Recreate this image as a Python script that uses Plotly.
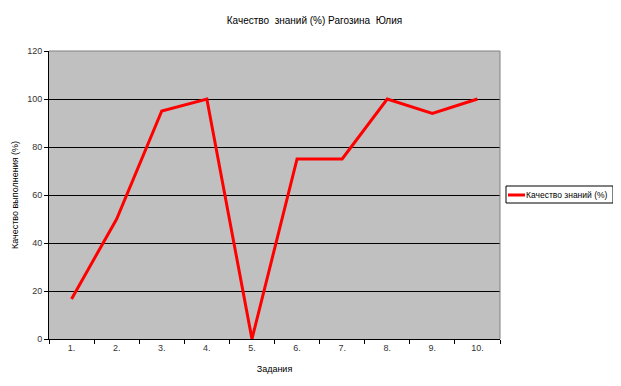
import plotly.graph_objects as go

tasks = ["1.", "2.", "3.", "4.", "5.", "6.", "7.", "8.", "9.", "10."]
quality = [16.7, 50, 95, 100, 0, 75, 75, 100, 94, 100]
series_name = "Качество знаний (%)"
title_text = "Качество  знаний (%) Рагозина  Юлия"

FONT = "Liberation Sans, Arial, sans-serif"

# page body has an 8px margin; compensate so the plot lands where the reference has it
W, H = 613, 378

fig = go.Figure()
fig.add_trace(go.Scatter(
    x=tasks, y=quality, mode="lines", name=series_name,
    line=dict(color="#FF0000", width=3), showlegend=False,
))

fig.update_layout(
    width=W, height=H,
    margin=dict(l=41, r=121, t=43, b=47, autoexpand=False),
    paper_bgcolor="white",
    plot_bgcolor="#C0C0C0",
    font=dict(family=FONT, size=9, color="black"),
    title=dict(text=title_text, x=0.5, xanchor="center", y=1 - 12 / H, yanchor="middle",
               font=dict(family=FONT, size=10, color="black")),
    showlegend=False,
    xaxis=dict(
        type="category", tickson="boundaries", ticks="outside", ticklen=4,
        tickcolor="black", showline=True, linecolor="black", linewidth=1,
        mirror=False, showgrid=False, zeroline=False, automargin=False,
        title=dict(text="Задания", standoff=13, font=dict(family=FONT, size=9)),
        tickfont=dict(family=FONT, size=9, color="#333"),
        range=[-0.5, 9.5],
    ),
    yaxis=dict(
        range=[0, 120], dtick=20, ticks="outside", ticklen=4, tickcolor="black",
        showline=True, linecolor="black", linewidth=1, automargin=False,
        showgrid=True, gridcolor="black", gridwidth=1, zeroline=False,
        title=dict(text="Качество выполнения (%)", standoff=7, font=dict(family=FONT, size=9)),
        tickfont=dict(family=FONT, size=9, color="#333"),
    ),
)

# gray frame on top/right of plot area
fig.add_shape(type="line", xref="paper", yref="paper", x0=0, x1=1, y0=1, y1=1,
              line=dict(color="#808080", width=1))
fig.add_shape(type="line", xref="paper", yref="paper", x0=1, x1=1, y0=0, y1=1,
              line=dict(color="#808080", width=1))

# legend box (drawn manually to match the compact reference legend)
pw, ph = 451.0, 288.0
def px(xp):
    return (xp - 49) / pw
def py(yp):
    return (339 - yp) / ph

fig.add_shape(type="rect", xref="paper", yref="paper",
              x0=px(506), x1=px(613), y0=py(203), y1=py(186),
              line=dict(color="black", width=1), fillcolor="white")
fig.add_shape(type="line", xref="paper", yref="paper",
              x0=px(508), x1=px(525), y0=py(195), y1=py(195),
              line=dict(color="#FF0000", width=3))
fig.add_annotation(xref="paper", yref="paper", x=px(524), y=py(195),
                   xanchor="left", yanchor="middle", showarrow=False,
                   text=series_name, font=dict(family=FONT, size=8.5, color="black"))

fig.write_html("out.html")
